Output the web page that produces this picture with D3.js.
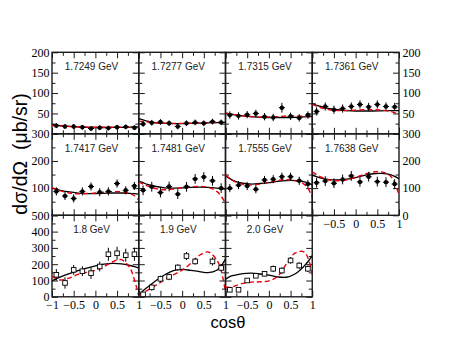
<!DOCTYPE html>
<html><head><meta charset="utf-8">
<script src="https://cdn.jsdelivr.net/npm/d3@7"></script>
<style>body{margin:0;background:#fff} .tick text{font-family:'Liberation Serif','Times New Roman',serif !important;}</style>
</head><body>
<svg id="c" width="451" height="349"></svg>
<script>
// ---------------- data ----------------
const energies = ["1.7249 GeV","1.7277 GeV","1.7315 GeV","1.7361 GeV",
                  "1.7417 GeV","1.7481 GeV","1.7555 GeV","1.7638 GeV",
                  "1.8 GeV","1.9 GeV","2.0 GeV"];
const cosObs = [-0.9,-0.7,-0.5,-0.3,-0.1,0.1,0.3,0.5,0.7,0.9];
const obs = [
  [20,18,18,16,13,15,14,16,17,15],
  [24,27,29,26,18,26,28,26,30,28],
  [46,44,47,50,42,40,64,43,39,46],
  [55,67,59,62,67,72,66,72,67,66],
  [88,71,62,88,106,85,88,117,92,108],
  [92,105,84,106,78,105,134,141,127,100],
  [100,111,108,96,130,133,142,142,127,115],
  [120,126,118,132,145,123,142,124,122,115],
  [135,85,165,157,145,186,261,267,255,261],
  [15,58,110,122,180,250,217,null,217,177],
  [43,43,100,129,141,172,161,223,192,172]
];
const errs = [
  [6,6,6,6,6,6,6,6,6,6],
  [7,7,7,7,7,7,7,7,7,7],
  [9,9,9,9,9,9,12,9,9,9],
  [10,10,10,10,10,10,10,10,10,10],
  [15,15,15,15,15,15,15,15,15,15],
  [18,18,18,18,18,18,18,18,18,18],
  [15,15,15,15,15,15,15,15,15,15],
  [18,18,18,18,18,18,18,18,18,18],
  [35,35,30,30,35,30,40,40,40,40],
  [15,20,20,20,20,25,20,null,25,20],
  [10,10,15,10,15,20,20,20,20,20]
];
const curveX = [-1,-0.9,-0.8,-0.6,-0.4,-0.2,0,0.2,0.4,0.6,0.8,0.9,1];
const solidCurves = [
  [23,21,20,18,17,16,15.5,15.5,16,16,16.5,17,17],
  [37,34,31,27,25.5,25,25,25.5,26,27,27.5,28,28],
  [51,49,47,44,42,40.5,40,40,40,40.5,41.5,42,43],
  [74,70,67,62,59,57,56,56,56,56.5,57,57,57],
  [100,96,92,86,82,80,80,81,82,82,81,80,78],
  [126,120,114,106,101,100,101,103,104,103,100,98,96],
  [145,135,127,118,115,117,120,125,128,128,124,119,112],
  [148,142,137,131,130,133,139,147,153,154,150,143,135],
  [98,110,122,142,160,176,190,200,205,202,192,185,176],
  [5,37,58,100,135,160,168,162,155,148,163,190,232],
  [108,124,132,142,145,140,133,122,120,140,185,215,252]
];
const dashedCurves = [
  [21,20,19,18,17,16.5,16,16,16,16,16,15,14],
  [31,30,29,27,26,25.5,25.5,26,26.5,27,27,27,26],
  [50,49,47,44,42,41,41,42,43.5,44,43,42,41],
  [72,68,64,59,57,57,58,59,59,58,55,52,48],
  [102,96,90,82,79,80,82,85,87,86,80,72,57],
  [124,115,108,98,94,97,102,105,106,103,88,70,45],
  [148,135,125,114,112,115,121,128,131,128,116,100,66],
  [160,150,141,130,127,131,140,151,159,160,145,120,75],
  [125,112,103,115,138,150,163,185,215,228,175,105,5],
  [8,25,40,72,105,135,163,205,255,275,225,160,30],
  [60,58,65,82,90,92,98,125,200,268,277,240,135]
];
const yMaxByRow = [200,300,500];
const yMajorStep = [50,100,100];
const yMinorStep = [25,50,50];
const xMajorTicks = [-1,-0.5,0,0.5,1];
const xMinorTicks = [-0.75,-0.25,0.25,0.75];

// ---------------- layout ----------------
const L = 52, T = 52.3, PW = 86.75, PH = 81.5;
const svg = d3.select("#c");
const defs = svg.append("defs");
const fmt = d3.format("~g");
const serif = "'Liberation Serif','Times New Roman',serif";
const sans = "'Liberation Sans',Arial,Helvetica,sans-serif";
const frameCol = "#1a1a1a";

function styleAxis(sel){
  sel.attr("font-family", serif);
  sel.select(".domain").remove();
  sel.selectAll(".tick line").attr("stroke", frameCol).attr("stroke-width", 1);
  sel.selectAll(".tick text").style("font-family", serif).style("font-size", "12px").attr("fill", "#000");
}

energies.forEach((label, i) => {
  const row = Math.floor(i / 4), col = i % 4;
  const x0 = L + col * PW, y0 = T + row * PH;
  const x = d3.scaleLinear().domain([-1, 1]).range([x0, x0 + PW]);
  const ymax = yMaxByRow[row];
  const y = d3.scaleLinear().domain([0, ymax]).range([y0 + PH, y0]);
  const pg = svg.append("g");

  defs.append("clipPath").attr("id", "cp" + i).append("rect")
    .attr("x", x0).attr("y", y0).attr("width", PW).attr("height", PH);

  const yMajor = d3.range(0, ymax + 1, yMajorStep[row]);
  const yMinor = d3.range(0, ymax + 1, yMinorStep[row]).filter(v => !yMajor.includes(v));

  const showBottom = row === 2 || (row === 1 && col === 3);
  const showLeft = col === 0;
  const showRight = col === 3;

  // bottom
  pg.append("g").attr("transform", `translate(0,${y0 + PH})`)
    .call(d3.axisBottom(x).tickValues(xMinorTicks).tickSizeInner(-3.5).tickSizeOuter(0).tickFormat(""))
    .call(styleAxis);
  pg.append("g").attr("transform", `translate(0,${y0 + PH})`)
    .call(d3.axisBottom(x).tickValues(xMajorTicks).tickSizeInner(-6).tickSizeOuter(0).tickPadding(4)
      .tickFormat(v => (showBottom && (col === 0 || v > -1)) ? fmt(v) : ""))
    .call(styleAxis);
  // top
  pg.append("g").attr("transform", `translate(0,${y0})`)
    .call(d3.axisTop(x).tickValues(xMinorTicks).tickSizeInner(-3.5).tickSizeOuter(0).tickFormat(""))
    .call(styleAxis);
  pg.append("g").attr("transform", `translate(0,${y0})`)
    .call(d3.axisTop(x).tickValues(xMajorTicks).tickSizeInner(-6).tickSizeOuter(0).tickFormat(""))
    .call(styleAxis);
  // left
  pg.append("g").attr("transform", `translate(${x0},0)`)
    .call(d3.axisLeft(y).tickValues(yMinor).tickSizeInner(-3.5).tickSizeOuter(0).tickFormat(""))
    .call(styleAxis);
  pg.append("g").attr("transform", `translate(${x0},0)`)
    .call(d3.axisLeft(y).tickValues(yMajor).tickSizeInner(-6).tickSizeOuter(0).tickPadding(2.5)
      .tickFormat(v => (showLeft && (row === 2 || v > 0)) ? fmt(v) : ""))
    .call(styleAxis);
  // right
  pg.append("g").attr("transform", `translate(${x0 + PW},0)`)
    .call(d3.axisRight(y).tickValues(yMinor).tickSizeInner(-3.5).tickSizeOuter(0).tickFormat(""))
    .call(styleAxis);
  pg.append("g").attr("transform", `translate(${x0 + PW},0)`)
    .call(d3.axisRight(y).tickValues(yMajor).tickSizeInner(-6).tickSizeOuter(0).tickPadding(3.5)
      .tickFormat(v => (showRight && (row === 1 || v > 0)) ? fmt(v) : ""))
    .call(styleAxis);

  // frame
  pg.append("rect").attr("x", x0).attr("y", y0).attr("width", PW).attr("height", PH)
    .attr("fill", "none").attr("stroke", frameCol).attr("stroke-width", 1.4);

  // label
  pg.append("text").attr("x", x0 + 39.5).attr("y", y0 + 18).attr("text-anchor", "middle")
    .attr("font-family", sans).attr("font-size", 10).attr("fill", "#222").text(label);

  // curves
  const cg = pg.append("g").attr("clip-path", `url(#cp${i})`);
  const line = d3.line().x(d => x(d[0])).y(d => y(d[1])).curve(d3.curveCatmullRom.alpha(0.5));
  cg.append("path").attr("d", line(curveX.map((c, k) => [c, solidCurves[i][k]])))
    .attr("fill", "none").attr("stroke", "#000").attr("stroke-width", 1.3);
  cg.append("path").attr("d", line(curveX.map((c, k) => [c, dashedCurves[i][k]])))
    .attr("fill", "none").attr("stroke", "#e8000b").attr("stroke-width", 1.4).attr("stroke-dasharray", "5,3");

  // data points
  const pts = cosObs.map((c, k) => ({c, v: obs[i][k], e: errs[i][k]})).filter(d => d.v != null);
  const dg = pg.append("g");
  dg.selectAll("line.ev").data(pts).join("line")
    .attr("x1", d => x(d.c)).attr("x2", d => x(d.c))
    .attr("y1", d => y(d.v - d.e)).attr("y2", d => y(d.v + d.e))
    .attr("stroke", "#000").attr("stroke-width", 1);
  if (row < 2) {
    dg.selectAll("line.eh").data(pts).join("line")
      .attr("x1", d => x(d.c - 0.07)).attr("x2", d => x(d.c + 0.07))
      .attr("y1", d => y(d.v)).attr("y2", d => y(d.v))
      .attr("stroke", "#000").attr("stroke-width", 1);
    dg.selectAll("circle").data(pts).join("circle")
      .attr("cx", d => x(d.c)).attr("cy", d => y(d.v)).attr("r", 2.2).attr("fill", "#000");
  } else {
    dg.selectAll("rect").data(pts).join("rect")
      .attr("x", d => x(d.c) - 2.3).attr("y", d => y(d.v) - 2.3)
      .attr("width", 4.6).attr("height", 4.6)
      .attr("fill", "#fff").attr("stroke", "#000").attr("stroke-width", 0.9);
  }
});

// axis titles
svg.append("text").attr("transform", `translate(27,154) rotate(-90)`)
  .attr("text-anchor", "middle").attr("font-family", sans).attr("font-size", 19.5)
  .style("white-space", "pre").attr("fill", "#000").text("dσ/dΩ  (μb/sr)");
svg.append("text").attr("x", 228).attr("y", 327.5).attr("text-anchor", "middle")
  .attr("font-family", sans).attr("font-size", 16.5).attr("fill", "#000").text("cosθ");
</script>
</body></html>
